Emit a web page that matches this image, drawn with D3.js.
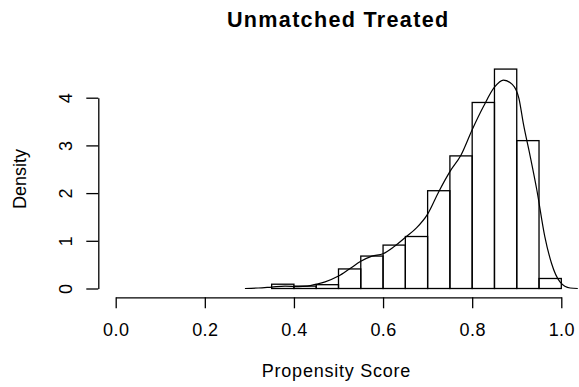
<!DOCTYPE html>
<html>
<head>
<meta charset="utf-8">
<script src="https://cdn.jsdelivr.net/npm/d3@7"></script>
<style>
  html, body { margin: 0; padding: 0; background: #fff; }
  svg { display: block; }
  text { font-family: "Liberation Sans", Arial, sans-serif; fill: #000; }
</style>
</head>
<body>
<svg id="chart" width="579" height="387"></svg>
<script>
// Histogram bins (left edges) and their densities
const binStarts = [0.35, 0.40, 0.45, 0.50, 0.55, 0.60, 0.65, 0.70, 0.75, 0.80, 0.85, 0.90, 0.95];
const binDensity = [0.09, 0.05, 0.08, 0.41, 0.68, 0.91, 1.09, 2.05, 2.78, 3.90, 4.60, 3.10, 0.21];
const binWidth = 0.05;

// Kernel density estimate, sampled along the score axis
const kdeX = [0.29, 0.32, 0.35, 0.38, 0.41, 0.43, 0.45, 0.47, 0.50, 0.526, 0.55, 0.575, 0.60, 0.625,
              0.65, 0.675, 0.70, 0.725, 0.75, 0.775, 0.80, 0.825, 0.85, 0.87, 0.89, 0.905, 0.915,
              0.93, 0.945, 0.963, 0.978, 0.997, 1.02, 1.037];
const kdeY = [0.00, 0.01, 0.03, 0.05, 0.04, 0.05, 0.09, 0.14, 0.26, 0.42, 0.57, 0.68, 0.73, 0.88,
              1.07, 1.27, 1.56, 2.03, 2.45, 2.80, 3.33, 3.81, 4.22, 4.37, 4.28, 3.98, 3.45,
              2.78, 2.07, 1.09, 0.53, 0.14, 0.01, 0.00];

// Axis ticks
const xTicks = [0.0, 0.2, 0.4, 0.6, 0.8, 1.0];
const yTicks = [0, 1, 2, 3, 4];

const titleText = "Unmatched Treated";
const xLabel = "Propensity Score";
const yLabel = "Density";

const svg = d3.select("#chart");

const x = d3.scaleLinear().domain([0, 1]).range([115.7, 561.3]);
const y = d3.scaleLinear().domain([0, 4]).range([288.5, 97.7]);

// Histogram bars
svg.append("g")
  .selectAll("rect")
  .data(binStarts.map((s, i) => ({ s, d: binDensity[i] })))
  .join("rect")
    .attr("x", d => x(d.s))
    .attr("y", d => y(d.d))
    .attr("width", d => x(d.s + binWidth) - x(d.s))
    .attr("height", d => y(0) - y(d.d))
    .attr("fill", "none")
    .attr("stroke", "#000")
    .attr("stroke-width", 1.3);

// Density curve
const line = d3.line()
  .x((d, i) => x(kdeX[i]))
  .y(d => y(d))
  .curve(d3.curveMonotoneX);

svg.append("path")
  .datum(kdeY)
  .attr("d", line)
  .attr("fill", "none")
  .attr("stroke", "#000")
  .attr("stroke-width", 1.2);

// X axis
const xAxis = d3.axisBottom(x)
  .tickValues(xTicks)
  .tickFormat(d3.format(".1f"))
  .tickSizeInner(11)
  .tickSizeOuter(0)
  .tickPadding(15);

const gx = svg.append("g")
  .attr("transform", "translate(0,297.3)")
  .call(xAxis);
gx.select(".domain").attr("stroke", "#000").attr("stroke-width", 1.3);
gx.selectAll(".tick line").attr("stroke", "#000").attr("stroke-width", 1.3);
gx.selectAll(".tick text")
  .attr("font-size", 18)
  .attr("font-family", "Liberation Sans, Arial, sans-serif")
  .attr("fill", "#000")
  .attr("letter-spacing", "0.4px")
  .attr("dy", "0.71em");

// Y axis
const yAxis = d3.axisLeft(y)
  .tickValues(yTicks)
  .tickFormat(d3.format("d"))
  .tickSizeInner(12)
  .tickSizeOuter(0)
  .tickPadding(14);

const gy = svg.append("g")
  .attr("transform", "translate(98.3,0)")
  .call(yAxis);
gy.select(".domain").attr("stroke", "#000").attr("stroke-width", 1.3);
gy.selectAll(".tick line").attr("stroke", "#000").attr("stroke-width", 1.3);
gy.selectAll(".tick text")
  .attr("font-size", 18)
  .attr("font-family", "Liberation Sans, Arial, sans-serif")
  .attr("fill", "#000")
  .attr("x", null)
  .attr("dy", null)
  .attr("text-anchor", "middle")
  .attr("transform", "translate(-26.6,0) rotate(-90)");

// Title
svg.append("text")
  .attr("x", 338.2)
  .attr("y", 26.7)
  .attr("text-anchor", "middle")
  .attr("font-size", 21.6)
  .attr("font-weight", "bold")
  .attr("letter-spacing", "1.3px")
  .text(titleText);

// Axis titles
svg.append("text")
  .attr("x", 336.4)
  .attr("y", 376.7)
  .attr("text-anchor", "middle")
  .attr("font-size", 18)
  .attr("letter-spacing", "0.75px")
  .text(xLabel);

svg.append("text")
  .attr("transform", "translate(25.7,179) rotate(-90)")
  .attr("text-anchor", "middle")
  .attr("font-size", 18)
  .text(yLabel);
</script>
</body>
</html>
